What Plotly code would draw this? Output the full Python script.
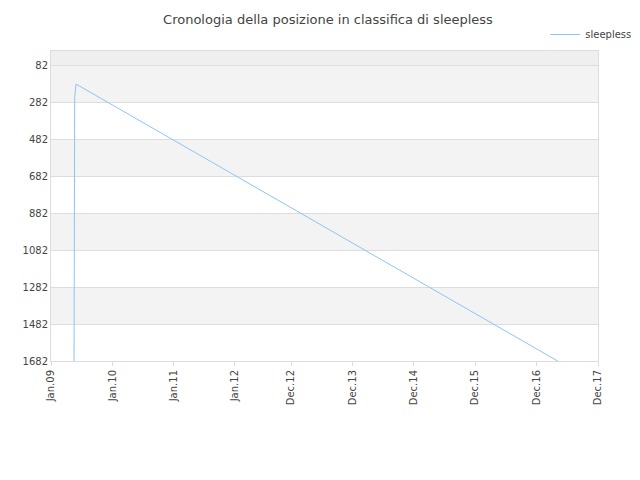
import plotly.graph_objects as go

dates = ["2009-05-18", "2009-05-19", "2009-05-22", "2009-05-26", "2009-05-30", "2017-04-20"]
positions = [1700, 300, 250, 215, 182, 1690]

tick_vals = ["2009-01-01", "2010-01-01", "2011-01-01", "2012-01-01", "2012-12-01",
             "2013-12-01", "2014-12-01", "2015-12-01", "2016-12-01", "2017-12-01"]
tick_text = ["Jan.09", "Jan.10", "Jan.11", "Jan.12", "Dec.12",
             "Dec.13", "Dec.14", "Dec.15", "Dec.16", "Dec.17"]
y_ticks = [82, 282, 482, 682, 882, 1082, 1282, 1482, 1682]

fig = go.Figure()
fig.add_trace(go.Scatter(x=dates, y=positions, mode="lines", name="sleepless",
                         line=dict(color="#8ec3f5", width=1)))

# alternating bands between gridlines
fig.add_hrect(y0=3, y1=82, line_width=0, layer="below", fillcolor="#efefef")
for i, y0 in enumerate(range(82, 1682, 200)):
    if i % 2 == 0:
        fig.add_hrect(y0=y0, y1=y0 + 200, line_width=0, layer="below", fillcolor="#f3f3f3")

fig.update_layout(
    width=640, height=480, plot_bgcolor="white", paper_bgcolor="white",
    title=dict(text="Cronologia della posizione in classifica di sleepless",
               x=0.5, y=0.985, font=dict(size=13, color="#444", family="DejaVu Sans")),
    font=dict(family="DejaVu Sans", size=10, color="#444"),
    margin=dict(l=43, r=47, t=33, b=127),
    showlegend=True,
    legend=dict(x=1.07, y=1.1, xanchor="right", yanchor="top", font=dict(size=10),
                bgcolor="rgba(0,0,0,0)"),
)
fig.update_xaxes(range=["2009-01-01", "2017-12-01"], tickvals=tick_vals, ticktext=tick_text,
                 tickangle=-90, showgrid=False, showline=True, linecolor="#ddd", mirror=True,
                 ticks="outside", ticklen=4, tickcolor="#ddd")
fig.update_yaxes(range=[1682, 3], tickvals=y_ticks, showgrid=True, gridcolor="#ddd",
                 showline=True, linecolor="#ddd", mirror=True, zeroline=False)
fig.write_html("out.html")
